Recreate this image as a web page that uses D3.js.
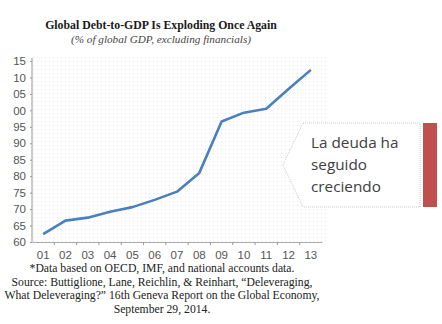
<!DOCTYPE html>
<html><head><meta charset="utf-8">
<script src="https://cdn.jsdelivr.net/npm/d3@7"></script>
<style>html,body{margin:0;padding:0;background:#fff;}svg{display:block;}</style>
</head><body>
<script>
const categories = ["01","02","03","04","05","06","07","08","09","10","11","12","13"];
const debtValues = [162.4,166.5,167.4,169.2,170.6,172.8,175.3,181.0,196.6,199.3,200.5,206.5,212.3];
const yTickValues = [160,165,170,175,180,185,190,195,200,205,210,215];
const yTickLabels = ["60","65","70","75","80","85","90","95","00","05","10","15"];
const titleText = "Global Debt-to-GDP Is Exploding Once Again";
const subtitleText = "(% of global GDP, excluding financials)";
const footLines = ["*Data based on OECD, IMF, and national accounts data.",
  "Source: Buttiglione, Lane, Reichlin, & Reinhart, \u201cDeleveraging,",
  "What Deleveraging?\u201d 16th Geneva Report on the Global Economy,",
  "September 29, 2014."];
const calloutLines = ["La deuda ha","seguido","creciendo"];

const W=442,H=324;
const svg=d3.select("body").append("svg").attr("width",W).attr("height",H);
const defs=svg.append("defs");
const pat=defs.append("pattern").attr("id","dots").attr("width",4).attr("height",4).attr("patternUnits","userSpaceOnUse");
pat.append("rect").attr("x",1).attr("y",1).attr("width",1).attr("height",1).attr("fill","#e6e6ee");

const x=d3.scaleBand().domain(categories).range([32,322]).padding(0);
const y=d3.scaleLinear().domain([160,215]).range([242,61]);

svg.append("rect").attr("x",33).attr("y",57).attr("width",294).attr("height",185).attr("fill","url(#dots)");

svg.append("text").attr("x",161).attr("y",29).attr("text-anchor","middle")
  .attr("font-family","Liberation Serif").attr("font-weight","bold").attr("font-size",11.8).attr("fill","#1a1a1a").text(titleText);
svg.append("text").attr("x",161).attr("y",43).attr("text-anchor","middle")
  .attr("font-family","Liberation Serif").attr("font-style","italic").attr("font-size",11.2).attr("fill","#444").text(subtitleText);

// y axis
const yAxis=d3.axisLeft(y).tickValues(yTickValues).tickFormat((d,i)=>yTickLabels[i]).tickSize(2).tickPadding(4);
const gy=svg.append("g").attr("transform","translate(32,0)").call(yAxis);
gy.select(".domain").attr("stroke","#aaa").attr("stroke-width",1.2).attr("d","M0,58V242");
gy.selectAll(".tick line").attr("stroke","#999");
gy.selectAll(".tick text").attr("font-family","Liberation Sans").attr("font-size",11.5).attr("fill","#555");

// x axis
const xAxis=d3.axisBottom(x).tickSize(0).tickPadding(9);
const gx=svg.append("g").attr("transform","translate(0,242)").call(xAxis);
gx.select(".domain").attr("stroke","#aaa").attr("stroke-width",1.2);
gx.selectAll(".tick text").attr("font-family","Liberation Sans").attr("font-size",11.5).attr("fill","#555");
gx.selectAll(".bt").data(categories.slice(1)).enter().append("line")
  .attr("x1",d=>x(d)).attr("x2",d=>x(d)).attr("y1",0).attr("y2",3).attr("stroke","#999");

// line
const line=d3.line().x((d,i)=>x(categories[i])+x.bandwidth()/2).y(d=>y(d));
svg.append("path").datum(debtValues).attr("d",line).attr("fill","none").attr("stroke","#4a7fc1").attr("stroke-width",2.6).attr("stroke-linejoin","round");

// footnotes
footLines.forEach((t,i)=>{
  svg.append("text").attr("x",162).attr("y",272+i*13.7).attr("text-anchor","middle")
    .attr("font-family","Liberation Serif").attr("font-size",11.7).attr("fill","#222").text(t);
});

// callout
svg.append("path").attr("d","M303,123H420V207H303L283,165Z").attr("fill","#fff")
  .attr("stroke","#c8ccd8").attr("stroke-width",1).attr("stroke-dasharray","1,1");
svg.append("rect").attr("x",423).attr("y",123).attr("width",14).attr("height",84).attr("fill","#c0504d");
calloutLines.forEach((t,i)=>{
  svg.append("text").attr("x",311).attr("y",148+i*22).attr("font-family","Open Sans").attr("font-size",15.3).attr("fill","#404040").text(t);
});
</script>
</body></html>
